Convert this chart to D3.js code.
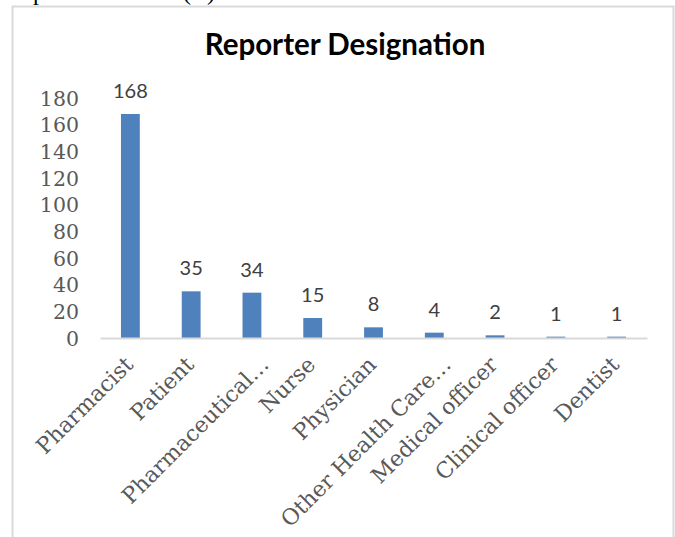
<!DOCTYPE html>
<html><head><meta charset="utf-8">
<script src="https://cdn.jsdelivr.net/npm/d3@7"></script>
<style>body{margin:0;background:#fff;} svg{display:block;}</style>
</head><body>
<script>
const categories = ["Pharmacist","Patient","Pharmaceutical…","Nurse","Physician","Other Health Care…","Medical officer","Clinical officer","Dentist"];
const values = [168,35,34,15,8,4,2,1,1];
const yTicks = [0,20,40,60,80,100,120,140,160,180];
const title = "Reporter Designation";

const W = 675, H = 537;
const svg = d3.select("body").append("svg").attr("width", W).attr("height", H);

// partial text from document above (only descenders visible)
svg.append("text").attr("x", 33).attr("y", 0).attr("font-family","Liberation Serif").attr("font-size",24).attr("fill","#000").text("p");
svg.append("text").attr("x", 183).attr("y", 0).attr("font-family","Liberation Serif").attr("font-size",24).attr("fill","#000").text("(");
svg.append("text").attr("x", 207).attr("y", 0).attr("font-family","Liberation Serif").attr("font-size",24).attr("fill","#000").text(")");

// chart frame
svg.append("rect").attr("x", 12.5).attr("y", 6.5).attr("width", 661).attr("height", 545)
  .attr("fill","#fff").attr("stroke","#d9d9d9").attr("stroke-width",2);

const x = d3.scaleBand().domain(categories).range([100, 647]).paddingInner(0.69).paddingOuter(0.345);
const y = d3.scaleLinear().domain([0,180]).range([338, 98]);

svg.append("text").attr("x", 345).attr("y", 55).attr("text-anchor","middle")
  .attr("font-family","Lato").attr("font-weight","bold").attr("font-size",29.5).attr("fill","#000").text(title);

// y axis
const yAxis = svg.append("g").attr("transform","translate(100,0)")
  .call(d3.axisLeft(y).tickValues(yTicks).tickSize(0).tickPadding(21));
yAxis.select(".domain").remove();
yAxis.selectAll("text").attr("font-family","DejaVu Serif").attr("font-size",20.5).attr("fill","#595959").attr("dy","0.35em");

// bars
svg.selectAll("rect.bar").data(values).join("rect").attr("class","bar")
  .attr("x",(d,i)=>x(categories[i])).attr("width",x.bandwidth())
  .attr("y",d=>y(d)).attr("height",d=>y(0)-y(d)).attr("fill","#4f81bd");

// value labels
svg.selectAll("text.val").data(values).join("text").attr("class","val")
  .attr("x",(d,i)=>x(categories[i])+x.bandwidth()/2).attr("y",d=>y(d)-16)
  .attr("text-anchor","middle").attr("font-family","Lato").attr("font-size",20).attr("fill","#404040").text(d=>d);

// x axis
const xAxis = svg.append("g").attr("transform","translate(0,338)")
  .call(d3.axisBottom(x).tickSize(0).tickPadding(0));
xAxis.select(".domain").attr("stroke","#d9d9d9").attr("stroke-width",2);
xAxis.selectAll("text").attr("font-family","DejaVu Serif").attr("font-size",22).attr("fill","#595959")
  .attr("text-anchor","end").attr("dy","0").attr("y",0)
  .attr("transform",d => `translate(${d.endsWith("…") ? 18 : 4},28) rotate(-45)`);
</script>
</body></html>
